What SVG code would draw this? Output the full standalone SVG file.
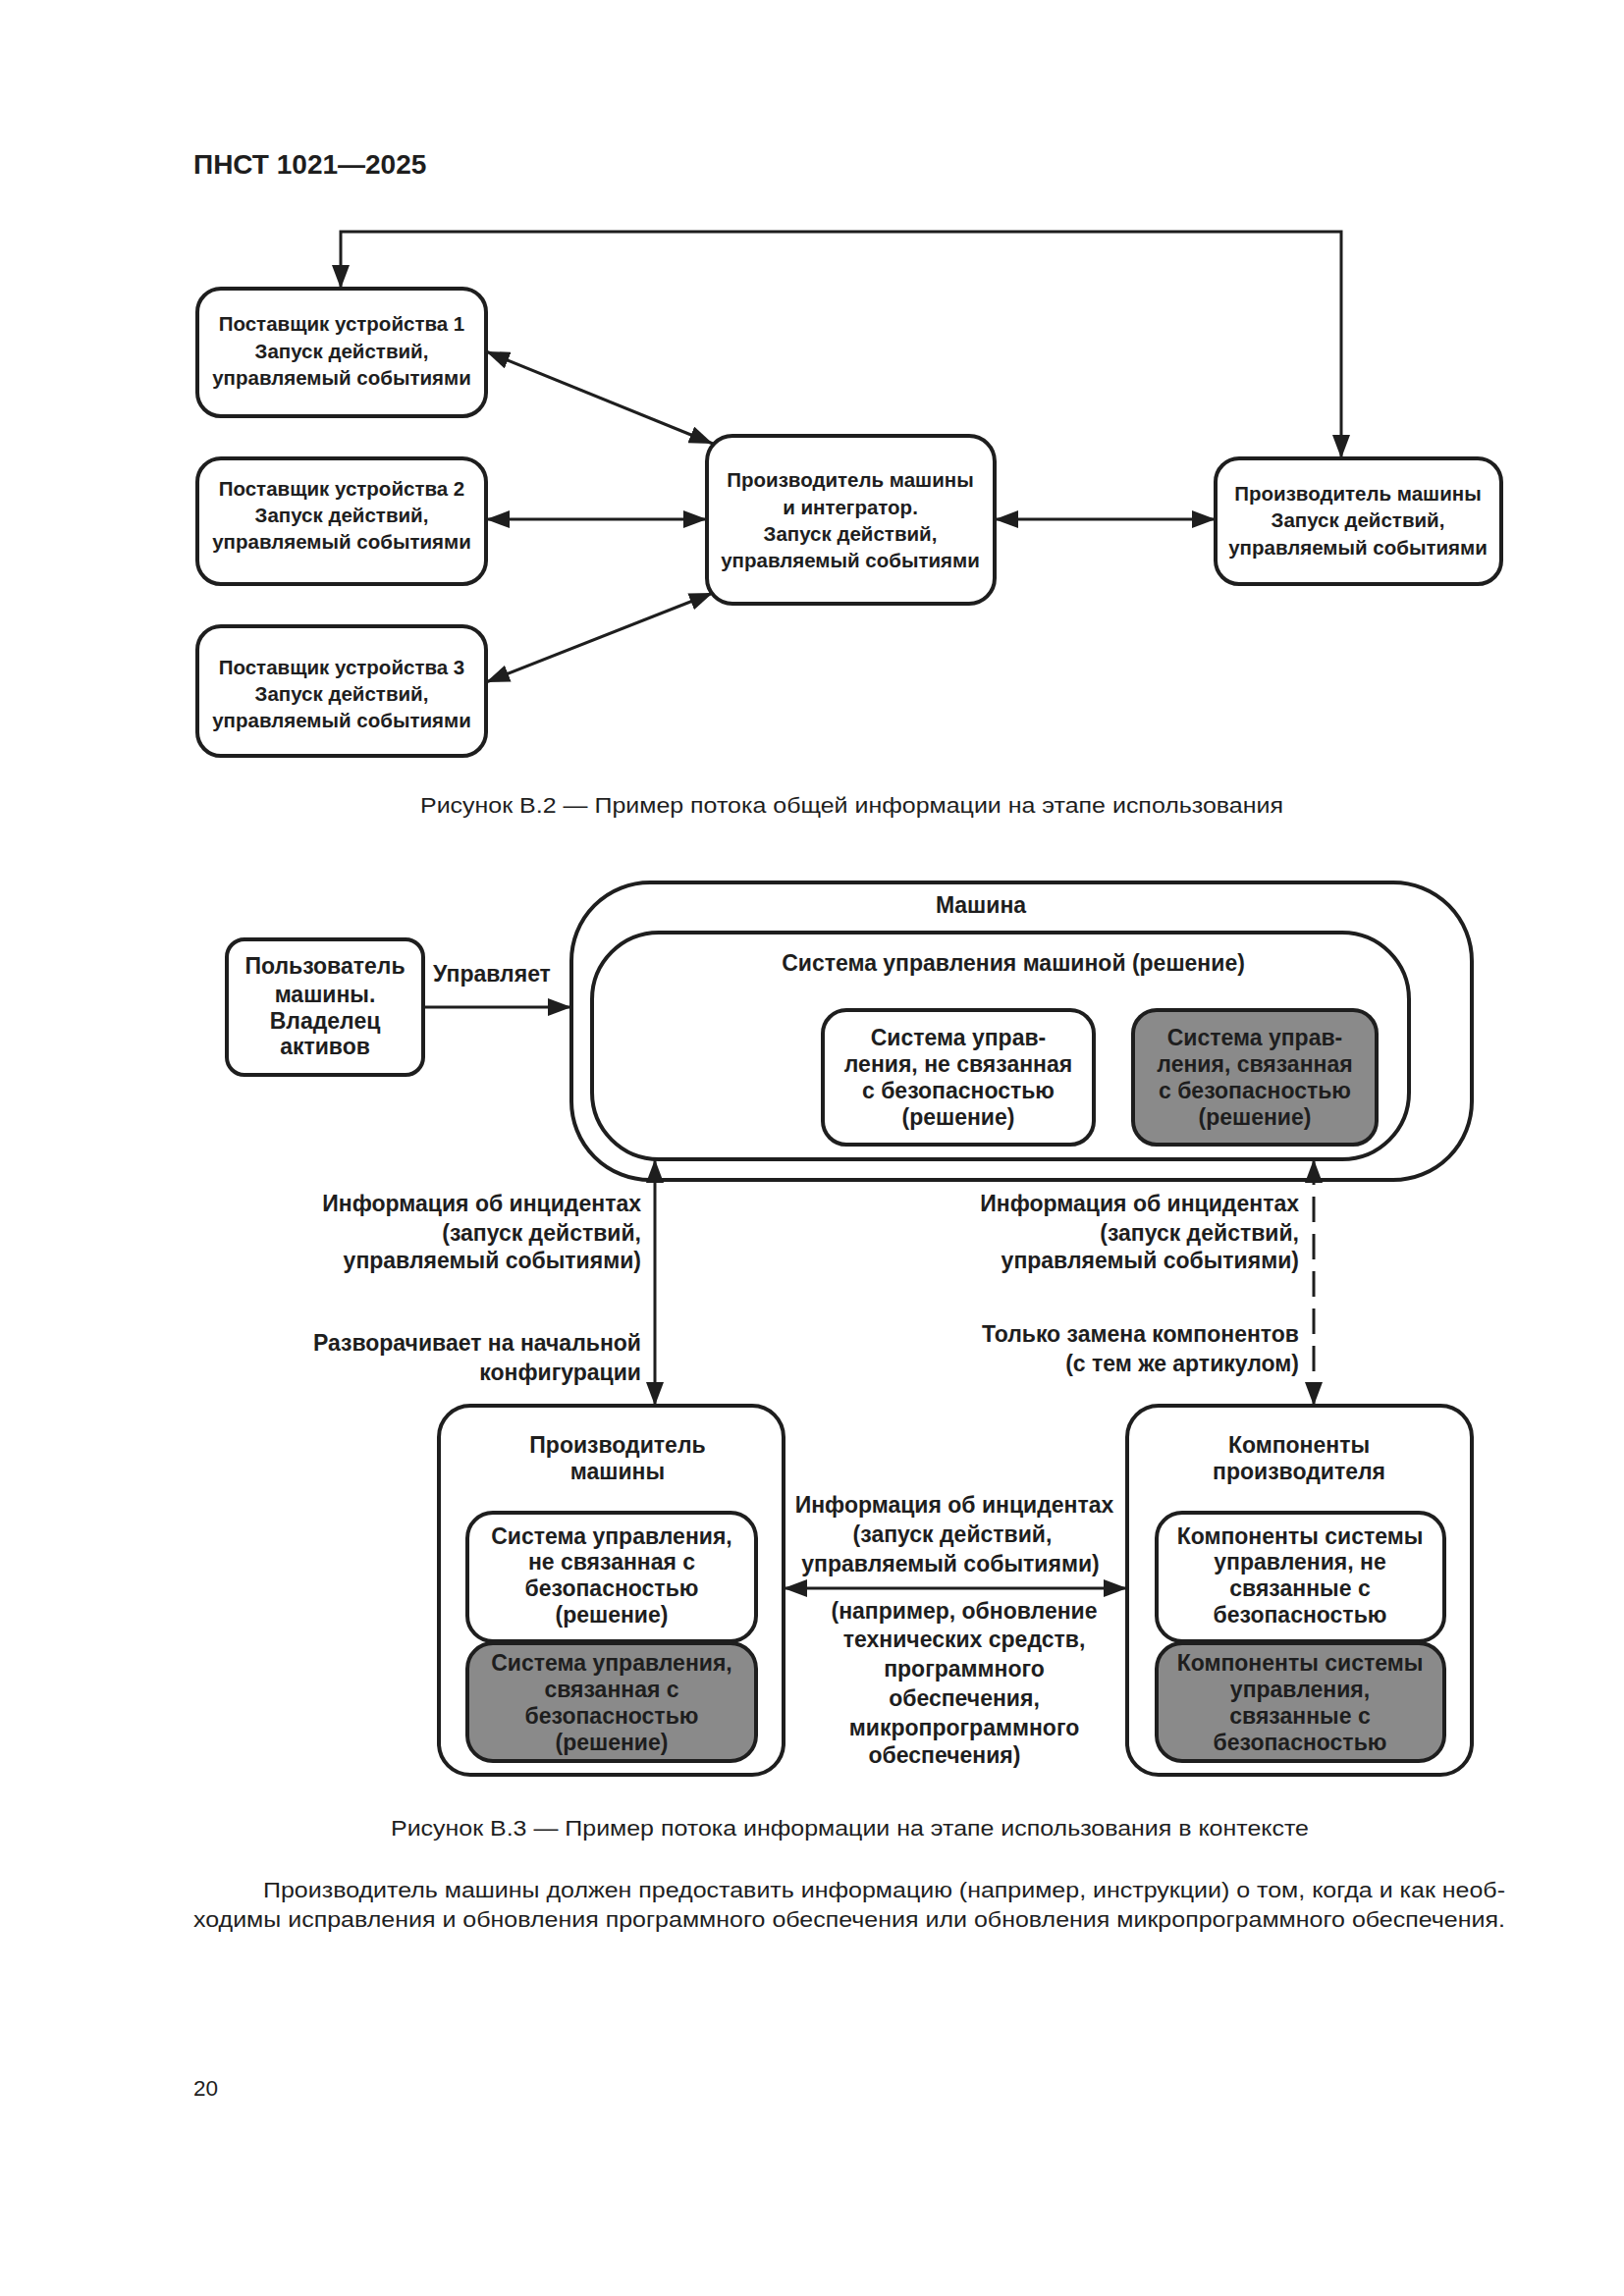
<svg xmlns="http://www.w3.org/2000/svg" width="1654" height="2339" viewBox="0 0 1654 2339">
<style>
text{font-family:"Liberation Sans",Arial,sans-serif;fill:#1e1e1e}
.b{font-weight:bold}
.n2{font-size:20.5px;font-weight:bold;text-anchor:middle}
.n3{font-size:23px;font-weight:bold;text-anchor:middle}
.lr{font-size:23px;font-weight:bold;text-anchor:end}
.body{font-size:22.5px}
.box{fill:#fff;stroke:#1e1e1e;stroke-width:4}
.gray{fill:#8a8a8a;stroke:#1e1e1e;stroke-width:4}
.con{fill:none;stroke:#1e1e1e;stroke-width:3}
.dash{stroke-dasharray:26 12}
</style>
<defs>
<marker id="ah" markerUnits="userSpaceOnUse" markerWidth="24" markerHeight="18" refX="24" refY="9" orient="auto-start-reverse">
<path d="M0,0 L24,9 L0,18 z" fill="#1e1e1e"/>
</marker>
</defs>

<text class="b" x="197" y="177" font-size="28">ПНСТ 1021—2025</text>

<!-- Figure B.2 -->
<g id="connectors-b2">
<path class="con" d="M347,294 V236 H1366 V467" marker-start="url(#ah)" marker-end="url(#ah)"/>
<line class="con" x1="495" y1="358" x2="726" y2="452" marker-start="url(#ah)" marker-end="url(#ah)"/>
<line class="con" x1="495" y1="529" x2="720" y2="529" marker-start="url(#ah)" marker-end="url(#ah)"/>
<line class="con" x1="495" y1="695" x2="726" y2="604" marker-start="url(#ah)" marker-end="url(#ah)"/>
<line class="con" x1="1013" y1="529" x2="1238" y2="529" marker-start="url(#ah)" marker-end="url(#ah)"/>
</g>

<g id="supplier1">
<rect class="box" x="201" y="294" width="294" height="130" rx="24"/>
<text class="n2" x="348" y="337">Поставщик устройства 1</text>
<text class="n2" x="348" y="365">Запуск действий,</text>
<text class="n2" x="348" y="392">управляемый событиями</text>
</g>
<g id="supplier2">
<rect class="box" x="201" y="467" width="294" height="128" rx="24"/>
<text class="n2" x="348" y="505">Поставщик устройства 2</text>
<text class="n2" x="348" y="532">Запуск действий,</text>
<text class="n2" x="348" y="559">управляемый событиями</text>
</g>
<g id="supplier3">
<rect class="box" x="201" y="638" width="294" height="132" rx="24"/>
<text class="n2" x="348" y="687">Поставщик устройства 3</text>
<text class="n2" x="348" y="714">Запуск действий,</text>
<text class="n2" x="348" y="741">управляемый событиями</text>
</g>
<g id="integrator">
<rect class="box" x="720" y="444" width="293" height="171" rx="26"/>
<text class="n2" x="866" y="496">Производитель машины</text>
<text class="n2" x="866" y="524">и интегратор.</text>
<text class="n2" x="866" y="551">Запуск действий,</text>
<text class="n2" x="866" y="578">управляемый событиями</text>
</g>
<g id="machine-maker">
<rect class="box" x="1238" y="467" width="291" height="128" rx="24"/>
<text class="n2" x="1383" y="510">Производитель машины</text>
<text class="n2" x="1383" y="537">Запуск действий,</text>
<text class="n2" x="1383" y="565">управляемый событиями</text>
</g>

<text class="body" x="428" y="828" textLength="879" lengthAdjust="spacingAndGlyphs">Рисунок В.2 — Пример потока общей информации на этапе использования</text>

<!-- Figure B.3 -->
<g id="machine">
<rect class="box" x="582" y="899" width="917" height="303" rx="80"/>
<text class="n3" x="999" y="930">Машина</text>
</g>
<g id="control-system">
<rect class="box" x="603" y="950" width="832" height="231" rx="68"/>
<text class="n3" x="1032" y="989">Система управления машиной (решение)</text>
</g>
<g id="non-safety-cs">
<rect class="box" x="838" y="1029" width="276" height="137" rx="24"/>
<text class="n3" x="976" y="1065">Система управ-</text>
<text class="n3" x="976" y="1092">ления, не связанная</text>
<text class="n3" x="976" y="1119">с безопасностью</text>
<text class="n3" x="976" y="1146">(решение)</text>
</g>
<g id="safety-cs">
<rect class="gray" x="1154" y="1029" width="248" height="137" rx="24"/>
<text class="n3" x="1278" y="1065">Система управ-</text>
<text class="n3" x="1278" y="1092">ления, связанная</text>
<text class="n3" x="1278" y="1119">с безопасностью</text>
<text class="n3" x="1278" y="1146">(решение)</text>
</g>
<g id="user">
<rect class="box" x="231" y="957" width="200" height="138" rx="18"/>
<text class="n3" x="331" y="992">Пользователь</text>
<text class="n3" x="331" y="1021">машины.</text>
<text class="n3" x="331" y="1048">Владелец</text>
<text class="n3" x="331" y="1074">активов</text>
</g>
<g id="producer">
<rect class="box" x="447" y="1432" width="351" height="376" rx="32"/>
<text class="n3" x="629" y="1480">Производитель</text>
<text class="n3" x="629" y="1507">машины</text>
<rect class="box" x="476" y="1541" width="294" height="131" rx="26"/>
<text class="n3" x="623" y="1573">Система управления,</text>
<text class="n3" x="623" y="1599">не связанная с</text>
<text class="n3" x="623" y="1626">безопасностью</text>
<text class="n3" x="623" y="1653">(решение)</text>
<rect class="gray" x="476" y="1674" width="294" height="120" rx="26"/>
<text class="n3" x="623" y="1702">Система управления,</text>
<text class="n3" x="623" y="1729">связанная с</text>
<text class="n3" x="623" y="1756">безопасностью</text>
<text class="n3" x="623" y="1783">(решение)</text>
</g>
<g id="components">
<rect class="box" x="1148" y="1432" width="351" height="376" rx="32"/>
<text class="n3" x="1323" y="1480">Компоненты</text>
<text class="n3" x="1323" y="1507">производителя</text>
<rect class="box" x="1178" y="1541" width="293" height="131" rx="26"/>
<text class="n3" x="1324" y="1573">Компоненты системы</text>
<text class="n3" x="1324" y="1599">управления, не</text>
<text class="n3" x="1324" y="1626">связанные с</text>
<text class="n3" x="1324" y="1653">безопасностью</text>
<rect class="gray" x="1178" y="1674" width="293" height="120" rx="26"/>
<text class="n3" x="1324" y="1702">Компоненты системы</text>
<text class="n3" x="1324" y="1729">управления,</text>
<text class="n3" x="1324" y="1756">связанные с</text>
<text class="n3" x="1324" y="1783">безопасностью</text>
</g>

<g id="connectors-b3">
<line class="con" x1="431" y1="1026" x2="582" y2="1026" stroke-width="4" marker-end="url(#ah)"/>
<line class="con" x1="667" y1="1181" x2="667" y2="1432" marker-start="url(#ah)" marker-end="url(#ah)"/>
<line class="con dash" x1="1338" y1="1181" x2="1338" y2="1432" marker-start="url(#ah)" marker-end="url(#ah)"/>
<line class="con" x1="798" y1="1618" x2="1148" y2="1618" marker-start="url(#ah)" marker-end="url(#ah)"/>
</g>

<g id="labels-b3">
<text class="n3" x="501" y="1000">Управляет</text>
<text class="lr" x="653" y="1234">Информация об инцидентах</text>
<text class="lr" x="653" y="1264">(запуск действий,</text>
<text class="lr" x="653" y="1292">управляемый событиями)</text>
<text class="lr" x="653" y="1376">Разворачивает на начальной</text>
<text class="lr" x="653" y="1406">конфигурации</text>
<text class="lr" x="1323" y="1234">Информация об инцидентах</text>
<text class="lr" x="1323" y="1264">(запуск действий,</text>
<text class="lr" x="1323" y="1292">управляемый событиями)</text>
<text class="lr" x="1323" y="1367">Только замена компонентов</text>
<text class="lr" x="1323" y="1397">(с тем же артикулом)</text>
<text class="n3" x="972" y="1541">Информация об инцидентах</text>
<text class="n3" x="970" y="1571">(запуск действий,</text>
<text class="n3" x="968" y="1601">управляемый событиями)</text>
<text class="n3" x="982" y="1649">(например, обновление</text>
<text class="n3" x="982" y="1678">технических средств,</text>
<text class="n3" x="982" y="1708">программного</text>
<text class="n3" x="982" y="1738">обеспечения,</text>
<text class="n3" x="982" y="1768">микропрограммного</text>
<text class="n3" x="962" y="1796">обеспечения)</text>
</g>

<text class="body" x="398" y="1870" textLength="935" lengthAdjust="spacingAndGlyphs">Рисунок В.3 — Пример потока информации на этапе использования в контексте</text>
<text class="body" x="268" y="1933" textLength="1265" lengthAdjust="spacingAndGlyphs">Производитель машины должен предоставить информацию (например, инструкции) о том, когда и как необ-</text>
<text class="body" x="197" y="1963" textLength="1336" lengthAdjust="spacingAndGlyphs">ходимы исправления и обновления программного обеспечения или обновления микропрограммного обеспечения.</text>
<text class="body" x="197" y="2135">20</text>
</svg>
